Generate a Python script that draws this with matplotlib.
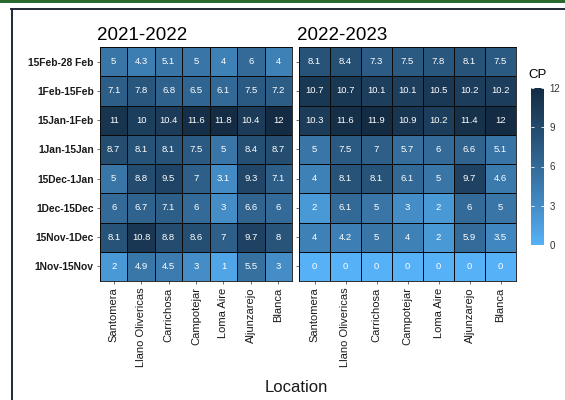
import numpy as np
import matplotlib
matplotlib.use("Agg")
import matplotlib.pyplot as plt
from matplotlib.colors import ListedColormap, to_rgb
from matplotlib.lines import Line2D
from matplotlib.patches import Rectangle

plt.rcParams['font.family'] = ['Liberation Sans', 'DejaVu Sans']

# ---- data ----
locations = ["Santomera", "Llano Olivericas", "Carrichosa", "Campotejar",
             "Loma Aire", "Aljunzarejo", "Blanca"]
periods = ["15Feb-28 Feb", "1Feb-15Feb", "15Jan-1Feb", "1Jan-15Jan",
           "15Dec-1Jan", "1Dec-15Dec", "15Nov-1Dec", "1Nov-15Nov"]  # top to bottom
seasons = ["2021-2022", "2022-2023"]

cp_2021_2022 = [
    [5, 4.3, 5.1, 5, 4, 6, 4],
    [7.1, 7.8, 6.8, 6.5, 6.1, 7.5, 7.2],
    [11, 10, 10.4, 11.6, 11.8, 10.4, 12],
    [8.7, 8.1, 8.1, 7.5, 5, 8.4, 8.7],
    [5, 8.8, 9.5, 7, 3.1, 9.3, 7.1],
    [6, 6.7, 7.1, 6, 3, 6.6, 6],
    [8.1, 10.8, 8.8, 8.6, 7, 9.7, 8],
    [2, 4.9, 4.5, 3, 1, 5.5, 3],
]
cp_2022_2023 = [
    [8.1, 8.4, 7.3, 7.5, 7.8, 8.1, 7.5],
    [10.7, 10.7, 10.1, 10.1, 10.5, 10.2, 10.2],
    [10.3, 11.6, 11.9, 10.9, 10.2, 11.4, 12],
    [5, 7.5, 7, 5.7, 6, 6.6, 5.1],
    [4, 8.1, 8.1, 6.1, 5, 9.7, 4.6],
    [2, 6.1, 5, 3, 2, 6, 5],
    [4, 4.2, 5, 4, 2, 5.9, 3.5],
    [0, 0, 0, 0, 0, 0, 0],
]
cp_ticks = [0, 3, 6, 9, 12]


# ---- gradient from light to dark blue, interpolated in CIELAB ----
_M = np.array([[0.4124, 0.3576, 0.1805],
               [0.2126, 0.7152, 0.0722],
               [0.0193, 0.1192, 0.9505]])
_W = np.array([0.95047, 1.0, 1.08883])


def _to_lab(rgb):
    c = np.asarray(rgb, float)
    lin = np.where(c <= 0.04045, c / 12.92, ((c + 0.055) / 1.055) ** 2.4)
    xyz = _M @ lin / _W
    d = 6 / 29
    f = np.where(xyz > d ** 3, np.cbrt(xyz), xyz / (3 * d * d) + 4 / 29)
    return np.array([116 * f[1] - 16, 500 * (f[0] - f[1]), 200 * (f[1] - f[2])])


def _from_lab(lab):
    L, a, b = lab
    fy = (L + 16) / 116
    fx = fy + a / 500
    fz = fy - b / 200
    d = 6 / 29
    f = np.array([fx, fy, fz])
    xyz = np.where(f > d, f ** 3, 3 * d * d * (f - 4 / 29)) * _W
    lin = np.linalg.solve(_M, xyz)
    lin = np.clip(lin, 0, 1)
    c = np.where(lin <= 0.0031308, 12.92 * lin, 1.055 * lin ** (1 / 2.4) - 0.055)
    return np.clip(c, 0, 1)


lo, hi = _to_lab(to_rgb("#56B1F7")), _to_lab(to_rgb("#132B43"))
cmap = ListedColormap([_from_lab(lo + t * (hi - lo)) for t in np.linspace(0, 1, 256)])

# ---- figure ----
W, H = 565, 400
fig = plt.figure(figsize=(W / 100, H / 100), dpi=100)


def fx(px):
    return px / W


def fy(py):
    return 1 - py / H


panels = [(100, 292), (299, 516)]
top, bottom = 47, 281
axes = []
for i, (x0, x1) in enumerate(panels):
    ax = fig.add_axes([fx(x0), fy(bottom), fx(x1 - x0), (bottom - top) / H])
    axes.append(ax)

mesh = None
for i, (ax, data) in enumerate(zip(axes, [cp_2021_2022, cp_2022_2023])):
    arr = np.array(data, float)[::-1]  # bottom row first
    nr, nc = arr.shape
    mesh = ax.pcolormesh(np.arange(nc + 1) - 0.5, np.arange(nr + 1) - 0.5, arr,
                         cmap=cmap, vmin=0, vmax=12,
                         edgecolors="#0a0a0a", linewidth=0.55)
    for r in range(nr):
        for c in range(nc):
            ax.text(c, r, f"{arr[r, c]:g}", ha="center", va="center",
                    color="white", fontsize=6.8)
    ax.set_xlim(-0.5, nc - 0.5)
    ax.set_ylim(-0.5, nr - 0.5)
    ax.set_xticks(range(nc))
    ax.set_xticklabels(locations, rotation=90, fontsize=8, color="#1a1a1a")
    ax.set_yticks(range(nr))
    if i == 0:
        ax.set_yticklabels(periods[::-1], fontsize=7.4, fontweight="bold",
                           color="#1a1a1a")
    else:
        ax.set_yticklabels([])
    ax.tick_params(length=2.5, width=0.6, color="#555555", pad=2)
    for s in ax.spines.values():
        s.set_color("#0a0a0a")
        s.set_linewidth(0.6)

# facet titles
fig.text(fx(97), fy(40), seasons[0], fontsize=13.5, ha="left", va="baseline")
fig.text(fx(297), fy(40), seasons[1], fontsize=13.5, ha="left", va="baseline")

# axis title
fig.text(fx(296), fy(392), "Location", fontsize=12, ha="center", va="baseline",
         color="#1a1a1a")

# colourbar
cax = fig.add_axes([fx(531), fy(245), fx(13), (245 - 88) / H])
cb = fig.colorbar(mesh, cax=cax, ticks=cp_ticks)
cb.outline.set_visible(False)
cax.tick_params(direction="in", length=2.5, width=0.6, color="white",
                left=True, right=True, labelsize=7, pad=4)
for lbl in cax.get_yticklabels():
    lbl.set_color("#333333")
fig.text(fx(538), fy(78), "CP", fontsize=9.5, ha="center", va="baseline")

# outer frame of the page
fig.add_artist(Rectangle((0, fy(3)), 1, 3 / H, transform=fig.transFigure,
                         color="#2b6a2f", lw=0))
fig.add_artist(Line2D([fx(11), 1], [fy(8.5), fy(8.5)], transform=fig.transFigure,
                      color="#1f2836", lw=1.4))
fig.add_artist(Line2D([fx(11.5), fx(11.5)], [0, fy(8.5)], transform=fig.transFigure,
                      color="#1f2836", lw=1.4))

fig.savefig("out.png", dpi=100)
